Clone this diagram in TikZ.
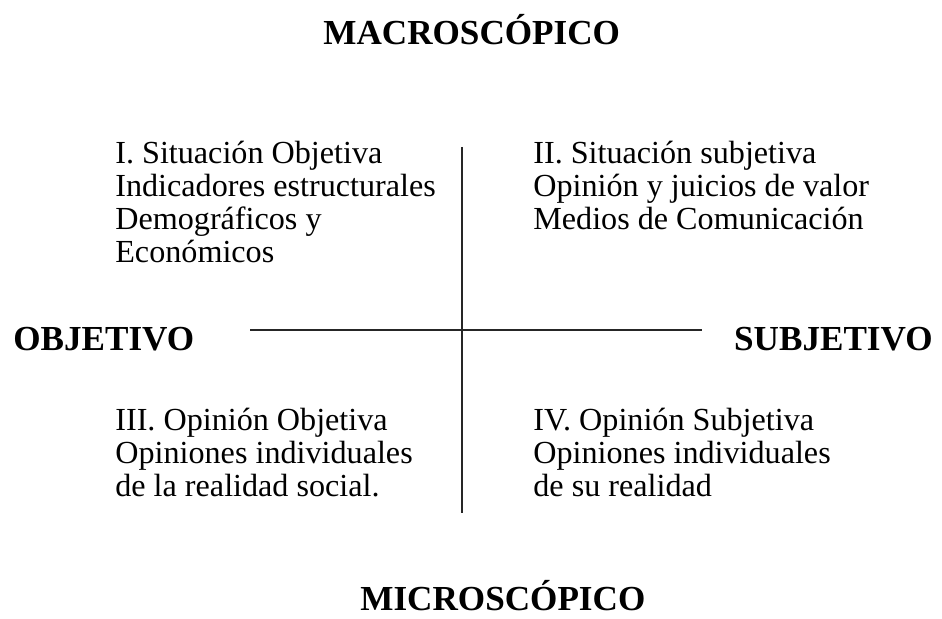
\documentclass[tikz,border=0pt]{standalone}
\usepackage{fontspec}
\setmainfont{Liberation Serif}
\usepackage{tikz}
\usetikzlibrary{positioning}

\tikzset{
  axislabel/.style={font=\fontsize{20}{23}\selectfont\bfseries, inner sep=0pt, anchor=base west},
  quadtext/.style={align=left, anchor=base west, inner sep=0pt,
    font=\fontsize{18.3}{18.7}\selectfont},
  axisline/.style={line width=1.1pt, black!85}
}

\begin{document}
\begin{tikzpicture}[x=0.02cm, y=-0.02cm]
    \useasboundingbox (0,0) rectangle (942,618);

    % axes
    \coordinate (top) at (462,147);
    \coordinate (bottom) at (462,513);
    \coordinate (left) at (250,330);
    \coordinate (right) at (702,330);
    \draw[axisline] (top) -- (bottom);
    \draw[axisline] (left) -- (right);

    % axis labels
    \node[axislabel] (macro) at (323,45) {MACROSCÓPICO};
    \node[axislabel] (micro) at (360,610) {MICROSCÓPICO};
    \node[axislabel] (obj) at (13,350) {OBJETIVO};
    \node[axislabel, anchor=base east] (subj) at (933,350) {SUBJETIVO};

    % quadrants (base = last line)
    \node[quadtext] (q1) at (115,262) {I. Situación Objetiva\\Indicadores estructurales\\Demográficos y\\Económicos};
    \node[quadtext] (q2) at (533,229) {II. Situación subjetiva\\Opinión y juicios de valor\\Medios de Comunicación};
    \node[quadtext] (q3) at (115,496) {III. Opinión Objetiva\\Opiniones individuales\\de la realidad social.};
    \node[quadtext] (q4) at (533,496) {IV. Opinión Subjetiva\\Opiniones individuales\\de su realidad};
\end{tikzpicture}
\end{document}
